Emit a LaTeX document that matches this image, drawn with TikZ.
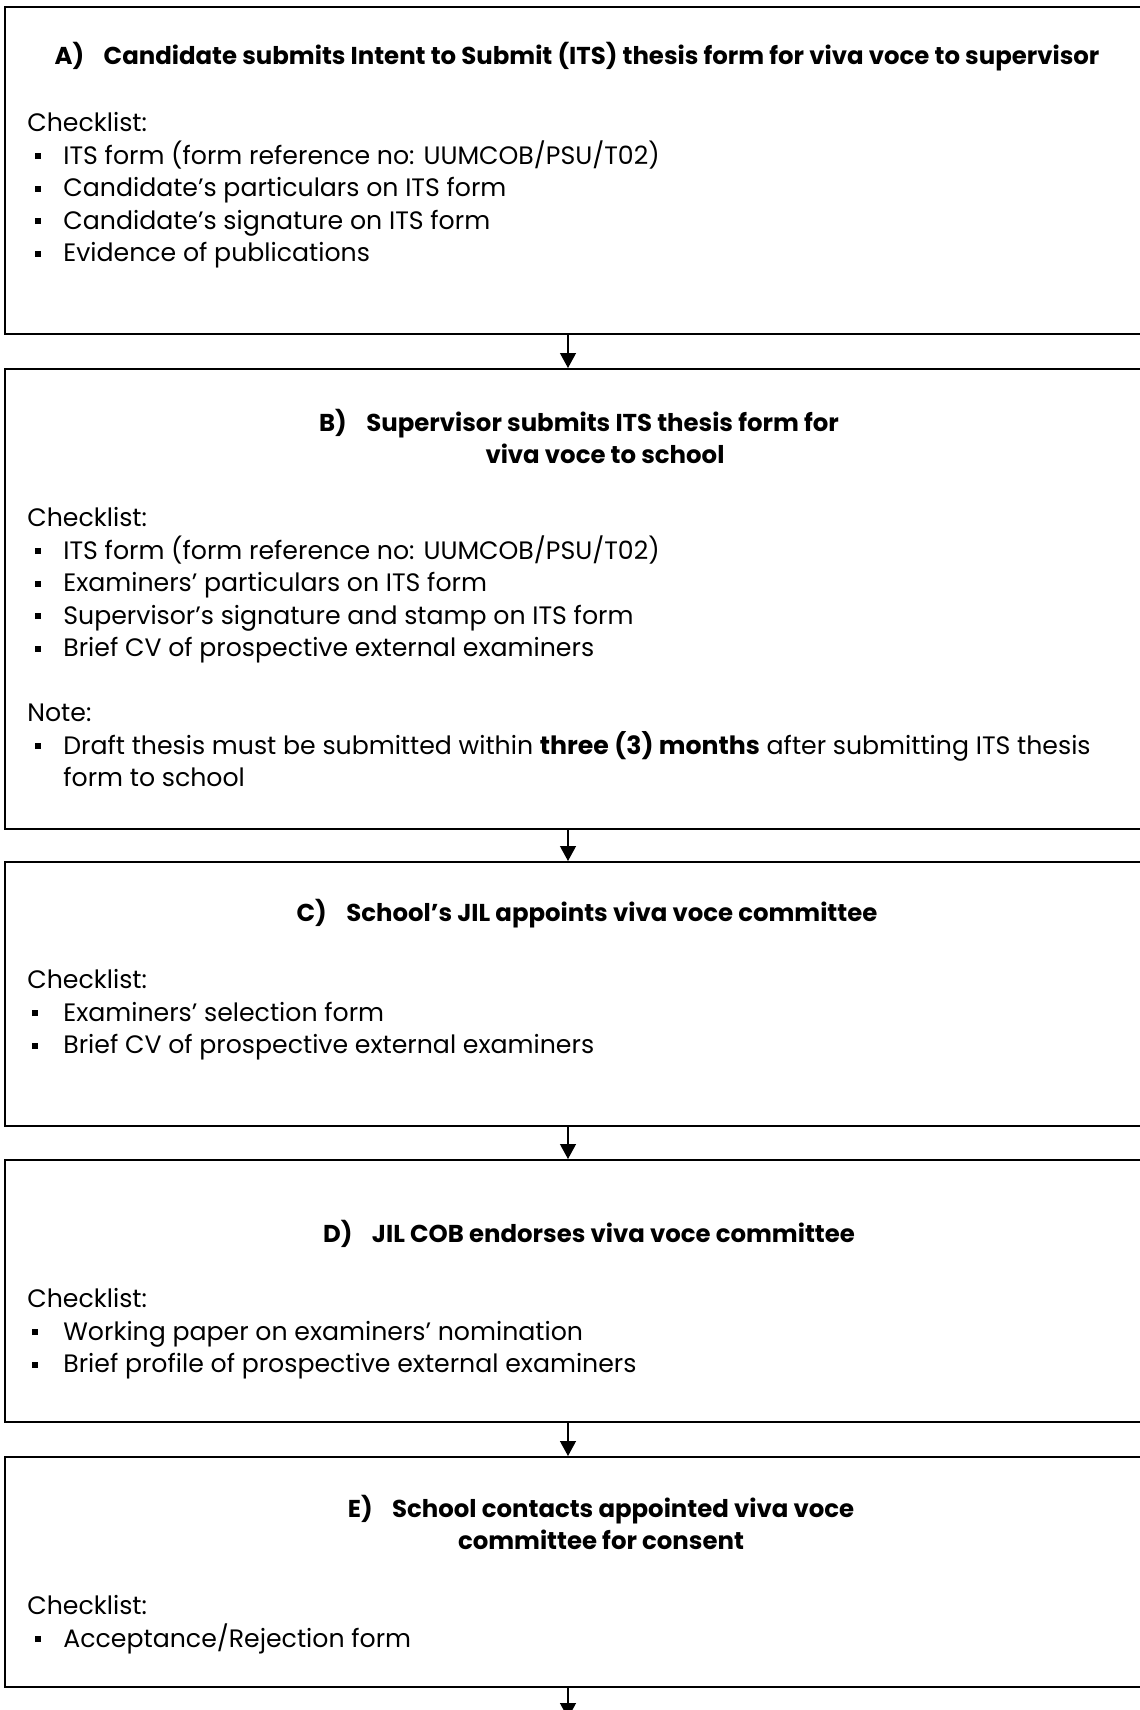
\documentclass[tikz,border=0pt]{standalone}
\usepackage{fontspec}
\setmainfont{Poppins}
\usetikzlibrary{arrows.meta}
\tikzset{stagebox/.style = {draw, line width=1pt, inner sep=0, minimum width=570pt}}
\tikzset{flow/.style = {line width=0.6pt, -{Triangle[width=8pt,length=7.5pt]}}}
\tikzset{heading/.style = {font=\bfseries\fontsize{12.2}{16}\selectfont,
                           align=center, inner sep=0}}
\tikzset{items/.style = {font=\fontsize{12.6}{16.25}\selectfont,
                         align=left, inner sep=0, anchor=north west}}
\newcommand{\itm}[1][3.6pt]{\makebox[18pt][l]{\hspace*{#1}\raisebox{0.2em}{\rule{3pt}{3pt}}}}

\begin{document}
\begin{tikzpicture}[x=0.5pt, y=-0.5pt]
      \clip (0,0) rectangle (1140,1710);
      \coordinate (spine) at (568,0);
      \coordinate (tail) at (568,1718);
      % stage frames
      \node[stagebox, minimum height=163.5pt] (boxA) at (575,170.5) {};
      \node[stagebox, minimum height=230pt]   (boxB) at (575,599) {};
      \node[stagebox, minimum height=132pt]   (boxC) at (575,994) {};
      \node[stagebox, minimum height=131pt]   (boxD) at (575,1291) {};
      \node[stagebox, minimum height=115pt]   (boxE) at (575,1572) {};
      % headings
      \node[heading] (headA) at (577,57) {A)\hspace{0.8em}Candidate submits Intent to Submit (ITS) thesis form for viva voce to supervisor};
      \node[heading] (headB) at (579,436) {B)\hspace{0.8em}Supervisor submits ITS thesis form for\\\hspace*{26pt}viva voce to school};
      \node[heading] (headC) at (587,914) {C)\hspace{0.8em}School’s JIL appoints viva voce committee};
      \node[heading] (headD) at (589,1234) {D)\hspace{0.8em}JIL COB endorses viva voce committee};
      \node[heading] (headE) at (601,1522) {E)\hspace{0.8em}School contacts appointed viva voce\\committee for consent};
      % checklists
      \node[items] (listA) at (27,112) {Checklist:\\
        \itm ITS form (form reference no: UUMCOB/PSU/T02)\\
        \itm Candidate’s particulars on ITS form\\
        \itm Candidate’s signature on ITS form\\
        \itm Evidence of publications};
      \node[items] (listB) at (27,507) {Checklist:\\
        \itm ITS form (form reference no: UUMCOB/PSU/T02)\\
        \itm Examiners’ particulars on ITS form\\
        \itm Supervisor’s signature and stamp on ITS form\\
        \itm Brief CV of prospective external examiners\\[16.25pt]
        Note:\\
        \itm Draft thesis must be submitted within \textbf{three (3) months} after submitting ITS thesis\\
        \hspace*{18pt}form to school};
      \node[items] (listC) at (27,969) {Checklist:\\
        \itm[2.4pt]Examiners’ selection form\\
        \itm[2.4pt]Brief CV of prospective external examiners};
      \node[items] (listD) at (27,1288) {Checklist:\\
        \itm[2.4pt]Working paper on examiners’ nomination\\
        \itm[2.4pt]Brief profile of prospective external examiners};
      \node[items] (listE) at (27,1595) {Checklist:\\
        \itm Acceptance/Rejection form};
      % connectors
      \draw[flow] (boxA.south -| spine) -- (boxB.north -| spine);
      \draw[flow] (boxB.south -| spine) -- (boxC.north -| spine);
      \draw[flow] (boxC.south -| spine) -- (boxD.north -| spine);
      \draw[flow] (boxD.south -| spine) -- (boxE.north -| spine);
      \draw[flow] (boxE.south -| spine) -- (tail);
\end{tikzpicture}
\end{document}
